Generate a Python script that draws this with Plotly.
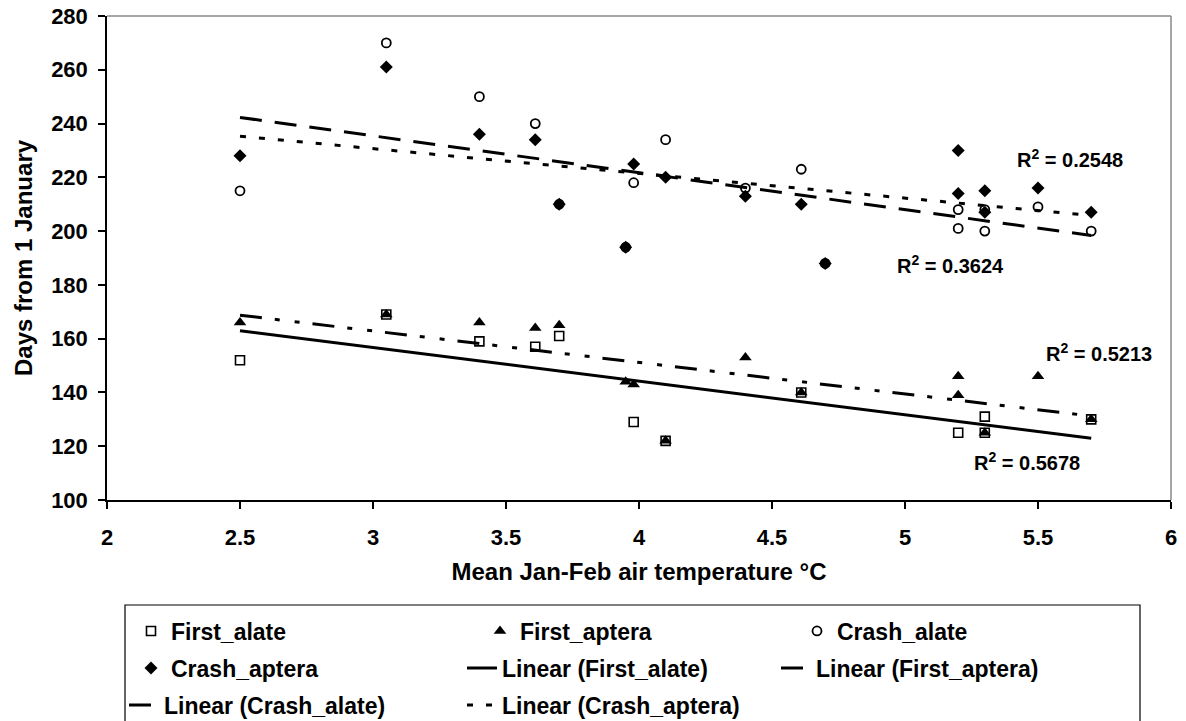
import numpy as np
import plotly.graph_objects as go

# ---- data ----
fa_x = [2.5, 3.05, 3.4, 3.61, 3.7, 3.98, 4.1, 4.61, 5.2, 5.3, 5.3, 5.7]
fa_y = [152, 169, 159, 157, 161, 129, 122, 140, 125, 131, 125, 130]

fap_x = [2.5, 3.05, 3.4, 3.61, 3.7, 3.95, 3.98, 4.1, 4.4, 4.61, 5.2, 5.2, 5.3, 5.5, 5.7]
fap_y = [166, 169, 166, 164, 165, 144, 143, 122, 153, 140, 146, 139, 125, 146, 130]

crash_x = [2.5, 3.05, 3.4, 3.61, 3.7, 3.95, 3.98, 4.1, 4.4, 4.61, 4.7, 5.2, 5.2, 5.3, 5.3, 5.5, 5.7]
ca_y = [215, 270, 250, 240, 210, 194, 218, 234, 216, 223, 188, 208, 201, 208, 200, 209, 200]
cap_y = [228, 261, 236, 234, 210, 194, 225, 220, 213, 210, 188, 230, 214, 215, 207, 216, 207]

r2_labels = ["R<sup>2</sup> = 0.2548", "R<sup>2</sup> = 0.3624",
             "R<sup>2</sup> = 0.5213", "R<sup>2</sup> = 0.5678"]
r2_x = [5.62, 5.17, 5.73, 5.46]
r2_y = [227, 187.5, 155, 114.5]

x_ticks = [2, 2.5, 3, 3.5, 4, 4.5, 5, 5.5, 6]
x_ticklabels = ["2", "2.5", "3", "3.5", "4", "4.5", "5", "5.5", "6"]
y_ticks = [100, 120, 140, 160, 180, 200, 220, 240, 260, 280]

FONT = "Liberation Sans, Arial, sans-serif"

def trend(xs, ys):
    xs = np.asarray(xs, float)
    ys = np.asarray(ys, float)
    m, b = np.polyfit(xs, ys, 1)
    xx = np.array([xs.min(), xs.max()])
    return xx, m * xx + b

L, R, T, B = 107, 15, 16, 221
W, H = 1186, 721
pw, ph = W - L - R, H - T - B

def py(pix):
    return (H - B - pix) / ph

def px(pix):
    return (pix - L) / pw

fig = go.Figure()

fig.add_trace(go.Scatter(x=fa_x, y=fa_y, mode="markers", name="First_alate", legend="legend",
                         marker=dict(symbol="square-open", size=9, color="black", line=dict(width=1.6, color="black"))))
fig.add_trace(go.Scatter(x=fap_x, y=fap_y, mode="markers", name="First_aptera", legend="legend2",
                         marker=dict(symbol="triangle-up", size=11, color="black")))
fig.add_trace(go.Scatter(x=crash_x, y=cap_y, mode="markers", name="Crash_aptera", legend="legend4",
                         marker=dict(symbol="diamond", size=10, color="black")))
fig.add_trace(go.Scatter(x=crash_x, y=ca_y, mode="markers", name="Crash_alate", legend="legend3",
                         marker=dict(symbol="circle-open", size=9, color="black", line=dict(width=1.8, color="black"))))

tx, ty = trend(fa_x, fa_y)
fig.add_trace(go.Scatter(x=tx, y=ty, mode="lines", name="Linear (First_alate)", legend="legend5",
                         line=dict(color="black", width=3)))
tx, ty = trend(fap_x, fap_y)
fig.add_trace(go.Scatter(x=tx, y=ty, mode="lines", name="Linear (First_aptera)", legend="legend6",
                         line=dict(color="black", width=3, dash="22px,13px,5px,15px,5px,13px")))
tx, ty = trend(crash_x, ca_y)
fig.add_trace(go.Scatter(x=tx, y=ty, mode="lines", name="Linear (Crash_alate)", legend="legend7",
                         line=dict(color="black", width=3, dash="22px,13px")))
tx, ty = trend(crash_x, cap_y)
fig.add_trace(go.Scatter(x=tx, y=ty, mode="lines", name="Linear (Crash_aptera)", legend="legend8",
                         line=dict(color="black", width=3, dash="6px,13px")))

for t, xv, yv in zip(r2_labels, r2_x, r2_y):
    fig.add_annotation(x=xv, y=yv, text=t, showarrow=False,
                       font=dict(family=FONT, size=20, color="black", weight="bold"))

leg_common = dict(orientation="h", xanchor="left", yanchor="middle", bgcolor="rgba(0,0,0,0)",
                  font=dict(family=FONT, size=23, color="black", weight="bold"),
                  borderwidth=0, itemsizing="trace")

# legend item placement (left edge px, row centre px)
row_y = [631, 668, 705]
leg_pos = {
    "legend":  (131, row_y[0]), "legend2": (480, row_y[0]), "legend3": (797, row_y[0]),
    "legend4": (131, row_y[1]), "legend5": (462, row_y[1]), "legend6": (776, row_y[1]),
    "legend7": (124, row_y[2]), "legend8": (462, row_y[2]),
}
legends = {k: dict(x=px(v[0]), y=py(v[1]), **leg_common) for k, v in leg_pos.items()}

fig.update_layout(
    width=W, height=H,
    margin=dict(l=L, r=R, t=T, b=B, pad=0, autoexpand=False),
    paper_bgcolor="white", plot_bgcolor="white",
    font=dict(family=FONT, color="black"),
    showlegend=True,
    **legends,
    xaxis=dict(range=[2, 6], tickvals=x_ticks, ticktext=x_ticklabels,
               showgrid=False, zeroline=False, showline=True, linecolor="black", linewidth=1.5,
               ticks="outside", ticklen=7, tickwidth=1.5, tickcolor="black", ticklabelstandoff=10,
               tickfont=dict(family=FONT, size=22, color="black", weight="bold"),
               title=dict(text="Mean Jan-Feb air temperature °C", standoff=14,
                          font=dict(family=FONT, size=24, color="black", weight="bold"))),
    yaxis=dict(range=[100, 280], tickvals=y_ticks,
               showgrid=False, zeroline=False, showline=True, linecolor="black", linewidth=1.5,
               ticks="outside", ticklen=7, tickwidth=1.5, tickcolor="black", ticklabelstandoff=6,
               tickfont=dict(family=FONT, size=22, color="black", weight="bold"),
               title=dict(text="Days from 1 January", standoff=12,
                          font=dict(family=FONT, size=24, color="black", weight="bold"))),
    shapes=[
        dict(type="line", xref="paper", yref="paper", x0=0, x1=1, y0=1, y1=1,
             line=dict(color="#888888", width=1.5)),
        dict(type="line", xref="paper", yref="paper", x0=1, x1=1, y0=0, y1=1,
             line=dict(color="#888888", width=1.5)),
        dict(type="rect", xref="paper", yref="paper", x0=px(125), x1=px(1140),
             y0=py(740), y1=py(605), line=dict(color="black", width=1.2),
             fillcolor="rgba(0,0,0,0)"),
    ],
)

fig.write_html("out.html")
